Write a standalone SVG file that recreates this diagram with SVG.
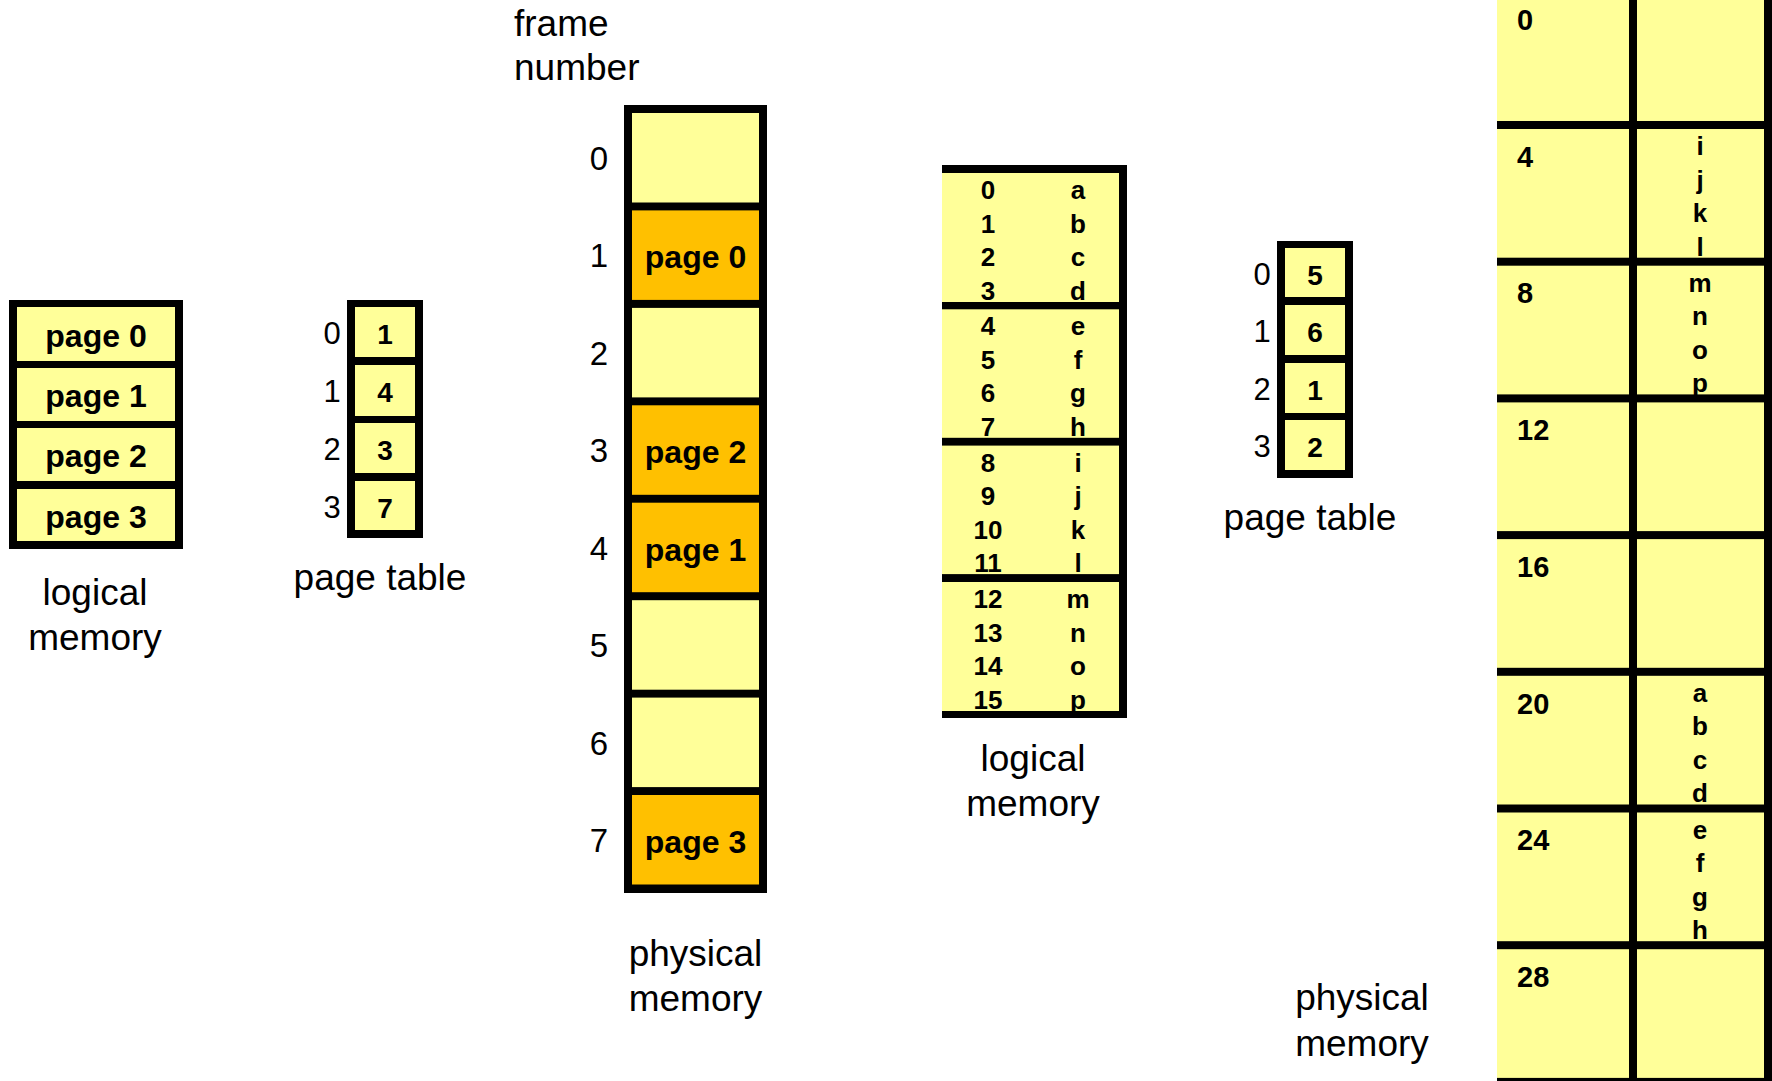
<svg xmlns="http://www.w3.org/2000/svg" width="1772" height="1081" viewBox="0 0 1772 1081">
<style>
.frame{fill:#000}
.y{fill:#FFFF99}
.o{fill:#FFC000}
.lbl{font-family:"Liberation Sans",Arial,sans-serif;font-size:37px;fill:#000}
.idx{font-family:"Liberation Sans",Arial,sans-serif;font-size:31px;fill:#000;text-anchor:middle}
.fno{font-family:"Liberation Sans",Arial,sans-serif;font-size:33px;fill:#000;text-anchor:middle}
.pg{font-family:"Liberation Sans",Arial,sans-serif;font-size:32px;font-weight:bold;fill:#000;text-anchor:middle}
.val{font-family:"Liberation Sans",Arial,sans-serif;font-size:28px;font-weight:bold;fill:#000;text-anchor:middle}
.sm{font-family:"Liberation Sans",Arial,sans-serif;font-size:26px;font-weight:bold;fill:#000;text-anchor:middle}
.addr{font-family:"Liberation Sans",Arial,sans-serif;font-size:29px;font-weight:bold;fill:#000}
.mid{text-anchor:middle}
</style>
<rect width="1772" height="1081" fill="#fff"/>

<g id="logical-memory-1">
<rect class="frame" x="9" y="300" width="174" height="249"/>
<rect class="y" x="17" y="307" width="158" height="54"/>
<rect class="y" x="17" y="368" width="158" height="53"/>
<rect class="y" x="17" y="428" width="158" height="53"/>
<rect class="y" x="17" y="489" width="158" height="52"/>
<text class="pg" x="96" y="347">page 0</text>
<text class="pg" x="96" y="407">page 1</text>
<text class="pg" x="96" y="467">page 2</text>
<text class="pg" x="96" y="528">page 3</text>
<text class="lbl mid" x="95" y="605">logical</text>
<text class="lbl mid" x="95" y="650">memory</text>
</g>

<g id="page-table-1">
<rect class="frame" x="347" y="300" width="76" height="238"/>
<rect class="y" x="355" y="307" width="60" height="50"/>
<rect class="y" x="355" y="365" width="60" height="51"/>
<rect class="y" x="355" y="423" width="60" height="50"/>
<rect class="y" x="355" y="481" width="60" height="49"/>
<text class="idx" x="332" y="344">0</text>
<text class="idx" x="332" y="402">1</text>
<text class="idx" x="332" y="460">2</text>
<text class="idx" x="332" y="518">3</text>
<text class="val" x="385" y="344">1</text>
<text class="val" x="385" y="402">4</text>
<text class="val" x="385" y="460">3</text>
<text class="val" x="385" y="518">7</text>
<text class="lbl mid" x="380" y="590">page table</text>
</g>

<g id="physical-memory-1">
<text class="lbl" x="514" y="36">frame</text>
<text class="lbl" x="514" y="80">number</text>
<rect class="frame" x="624" y="105" width="143" height="788"/>
<rect class="y" x="632" y="113" width="127" height="89.5"/>
<rect class="o" x="632" y="210.4" width="127" height="89.5"/>
<rect class="y" x="632" y="307.9" width="127" height="89.5"/>
<rect class="o" x="632" y="405.3" width="127" height="89.5"/>
<rect class="o" x="632" y="502.7" width="127" height="89.5"/>
<rect class="y" x="632" y="600.2" width="127" height="89.5"/>
<rect class="y" x="632" y="697.6" width="127" height="89.5"/>
<rect class="o" x="632" y="795" width="127" height="89.5"/>
<text class="pg" x="695.5" y="268">page 0</text>
<text class="pg" x="695.5" y="463">page 2</text>
<text class="pg" x="695.5" y="560.5">page 1</text>
<text class="pg" x="695.5" y="853">page 3</text>
<text class="fno" x="599" y="170">0</text>
<text class="fno" x="599" y="267.4">1</text>
<text class="fno" x="599" y="364.9">2</text>
<text class="fno" x="599" y="462.3">3</text>
<text class="fno" x="599" y="559.7">4</text>
<text class="fno" x="599" y="657.2">5</text>
<text class="fno" x="599" y="754.6">6</text>
<text class="fno" x="599" y="852">7</text>
<text class="lbl mid" x="695.5" y="966">physical</text>
<text class="lbl mid" x="695.5" y="1011">memory</text>
</g>

<g id="logical-memory-2">
<rect class="frame" x="942" y="165" width="185" height="553"/>
<rect class="y" x="942" y="173" width="177" height="129"/>
<rect class="y" x="942" y="309.3" width="177" height="128.5"/>
<rect class="y" x="942" y="445.6" width="177" height="128.5"/>
<rect class="y" x="942" y="582" width="177" height="129"/>
<g class="sm">
<text x="988" y="199">0</text><text x="1078" y="199">a</text>
<text x="988" y="232.5">1</text><text x="1078" y="232.5">b</text>
<text x="988" y="266">2</text><text x="1078" y="266">c</text>
<text x="988" y="299.5">3</text><text x="1078" y="299.5">d</text>
<text x="988" y="335">4</text><text x="1078" y="335">e</text>
<text x="988" y="368.5">5</text><text x="1078" y="368.5">f</text>
<text x="988" y="402">6</text><text x="1078" y="402">g</text>
<text x="988" y="435.5">7</text><text x="1078" y="435.5">h</text>
<text x="988" y="471.6">8</text><text x="1078" y="471.6">i</text>
<text x="988" y="505.1">9</text><text x="1078" y="505.1">j</text>
<text x="988" y="538.6">10</text><text x="1078" y="538.6">k</text>
<text x="988" y="572.1">11</text><text x="1078" y="572.1">l</text>
<text x="988" y="608">12</text><text x="1078" y="608">m</text>
<text x="988" y="641.5">13</text><text x="1078" y="641.5">n</text>
<text x="988" y="675">14</text><text x="1078" y="675">o</text>
<text x="988" y="708.5">15</text><text x="1078" y="708.5">p</text>
</g>
<text class="lbl mid" x="1033" y="771">logical</text>
<text class="lbl mid" x="1033" y="816">memory</text>
</g>

<g id="page-table-2">
<rect class="frame" x="1277" y="241" width="76" height="237"/>
<rect class="y" x="1285" y="248" width="60" height="49"/>
<rect class="y" x="1285" y="305" width="60" height="50"/>
<rect class="y" x="1285" y="363" width="60" height="50"/>
<rect class="y" x="1285" y="420" width="60" height="50"/>
<text class="idx" x="1262" y="285">0</text>
<text class="idx" x="1262" y="342">1</text>
<text class="idx" x="1262" y="400">2</text>
<text class="idx" x="1262" y="457">3</text>
<text class="val" x="1315" y="285">5</text>
<text class="val" x="1315" y="342">6</text>
<text class="val" x="1315" y="400">1</text>
<text class="val" x="1315" y="457">2</text>
<text class="lbl mid" x="1310" y="530">page table</text>
</g>

<g id="physical-memory-2">
<rect class="frame" x="1497" y="0" width="275" height="1081"/>
<rect class="y" x="1497" y="0" width="132" height="121"/>
<rect class="y" x="1637" y="0" width="127" height="121"/>
<rect class="y" x="1497" y="129" width="132" height="128.7"/>
<rect class="y" x="1637" y="129" width="127" height="128.7"/>
<rect class="y" x="1497" y="265.7" width="132" height="128.7"/>
<rect class="y" x="1637" y="265.7" width="127" height="128.7"/>
<rect class="y" x="1497" y="402.4" width="132" height="128.7"/>
<rect class="y" x="1637" y="402.4" width="127" height="128.7"/>
<rect class="y" x="1497" y="539.1" width="132" height="128.7"/>
<rect class="y" x="1637" y="539.1" width="127" height="128.7"/>
<rect class="y" x="1497" y="675.8" width="132" height="128.7"/>
<rect class="y" x="1637" y="675.8" width="127" height="128.7"/>
<rect class="y" x="1497" y="812.5" width="132" height="128.7"/>
<rect class="y" x="1637" y="812.5" width="127" height="128.7"/>
<rect class="y" x="1497" y="949.2" width="132" height="128.7"/>
<rect class="y" x="1637" y="949.2" width="127" height="128.7"/>
<text class="addr" x="1517" y="30">0</text>
<text class="addr" x="1517" y="166.7">4</text>
<text class="addr" x="1517" y="303.4">8</text>
<text class="addr" x="1517" y="440.1">12</text>
<text class="addr" x="1517" y="576.8">16</text>
<text class="addr" x="1517" y="713.5">20</text>
<text class="addr" x="1517" y="850.2">24</text>
<text class="addr" x="1517" y="986.9">28</text>
<g class="sm">
<text x="1700" y="155">i</text>
<text x="1700" y="188.5">j</text>
<text x="1700" y="222">k</text>
<text x="1700" y="255.5">l</text>
<text x="1700" y="291.7">m</text>
<text x="1700" y="325.2">n</text>
<text x="1700" y="358.7">o</text>
<text x="1700" y="392.2">p</text>
<text x="1700" y="701.8">a</text>
<text x="1700" y="735.3">b</text>
<text x="1700" y="768.8">c</text>
<text x="1700" y="802.3">d</text>
<text x="1700" y="838.5">e</text>
<text x="1700" y="872">f</text>
<text x="1700" y="905.5">g</text>
<text x="1700" y="939">h</text>
</g>
<text class="lbl mid" x="1362" y="1010">physical</text>
<text class="lbl mid" x="1362" y="1056">memory</text>
</g>

<g id="connectors"></g>
</svg>
